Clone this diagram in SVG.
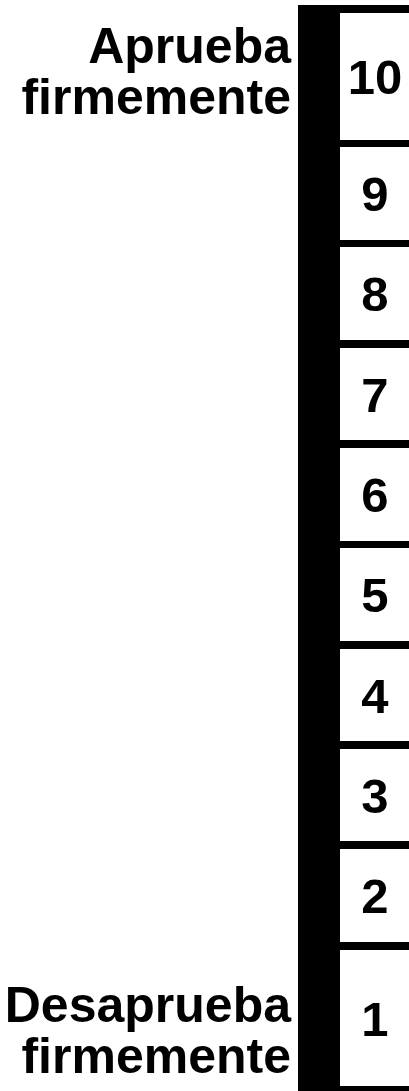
<svg xmlns="http://www.w3.org/2000/svg" width="409" height="1091" viewBox="0 0 409 1091">
<style>
.lbl{font-family:"Liberation Sans",Arial,sans-serif;font-weight:bold;font-size:50px;fill:#000;text-anchor:end}
.num{font-family:"Liberation Sans",Arial,sans-serif;font-weight:bold;font-size:49px;fill:#000;text-anchor:middle}
.sep{fill:#000}
</style>
<rect width="409" height="1091" fill="#fff"/>
<g id="bar"><rect x="298" y="5" width="42" height="1086" fill="#000"/></g>
<g id="separators">
<rect class="sep" x="340" y="5" width="69" height="8"/>
<rect class="sep" x="340" y="140" width="69" height="7"/>
<rect class="sep" x="340" y="240" width="69" height="7"/>
<rect class="sep" x="340" y="340" width="69" height="8"/>
<rect class="sep" x="340" y="440" width="69" height="8"/>
<rect class="sep" x="340" y="541" width="69" height="7"/>
<rect class="sep" x="340" y="641" width="69" height="8"/>
<rect class="sep" x="340" y="741" width="69" height="8"/>
<rect class="sep" x="340" y="841" width="69" height="8"/>
<rect class="sep" x="340" y="942" width="69" height="8"/>
<rect class="sep" x="340" y="1086" width="69" height="5"/>
</g>
<g id="box10"><text class="num" x="375" y="94">10</text></g>
<g id="box9"><text class="num" x="375" y="211">9</text></g>
<g id="box8"><text class="num" x="375" y="311">8</text></g>
<g id="box7"><text class="num" x="375" y="411.5">7</text></g>
<g id="box6"><text class="num" x="375" y="512">6</text></g>
<g id="box5"><text class="num" x="375" y="612">5</text></g>
<g id="box4"><text class="num" x="375" y="712.5">4</text></g>
<g id="box3"><text class="num" x="375" y="812.5">3</text></g>
<g id="box2"><text class="num" x="375" y="913">2</text></g>
<g id="box1"><text class="num" x="375" y="1035.5">1</text></g>
<g id="label-top"><text class="lbl" x="291" y="63">Aprueba</text><text class="lbl" x="291" y="114">firmemente</text></g>
<g id="label-bottom"><text class="lbl" x="291" y="1022">Desaprueba</text><text class="lbl" x="291" y="1073">firmemente</text></g>
</svg>
